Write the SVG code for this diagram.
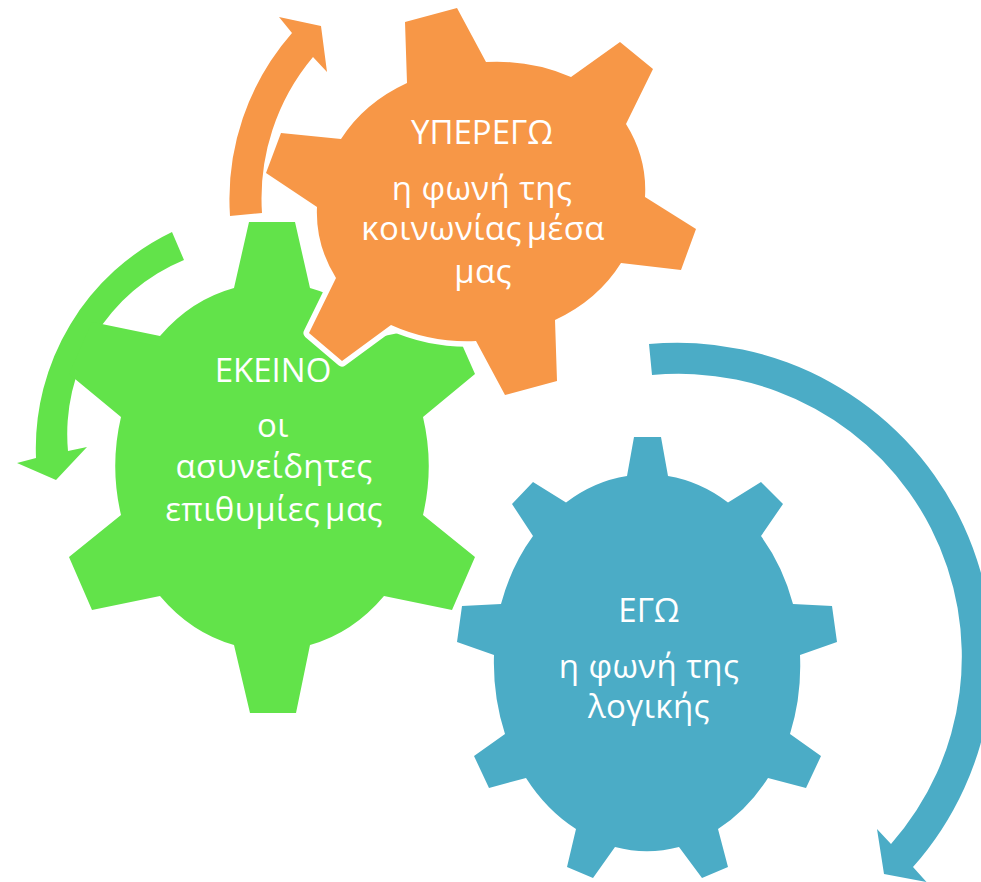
<svg xmlns="http://www.w3.org/2000/svg" width="981" height="882" viewBox="0 0 981 882">
<style>
.o{fill:#F79747}
.g{fill:#62E34A}
.b{fill:#4BACC6}
.halo{stroke:#fff;stroke-width:11;stroke-linejoin:round;paint-order:stroke}
text{font-family:"Open Sans","Noto Sans",sans-serif;font-size:33px;fill:#fff;text-anchor:middle;word-spacing:-4px;letter-spacing:.4px}
text.cap{letter-spacing:0}
text.wide{word-spacing:0}
</style>
<rect width="981" height="882" fill="#fff"/>
<g id="connectors">
<path id="arrow-ekeino" class="g" d="M172 232A240 240 0 0 0 36 458L17 463L56 480L87 447L68 451A188 188 0 0 1 184 260Z"/>
<path id="arrow-ego" class="b" d="M649 344A315 315 0 0 1 913 867L926.500 882L884 874L877 829L891 844A283 283 0 0 0 652 375Z"/>
</g>
<g id="node-ego">
<path class="b" d="M634 437L661 437L668 476A153 190 0 0 1 728 502.500L761 482L783 504L761 536A153 190 0 0 1 793 604L832 606L837 642L800 655A153 190 0 0 1 790 734L821 756L806 788L768 778A153 190 0 0 1 718 829L728 867L702 878L679 847A153 190 0 0 1 615 847L593 878L567 867L576 829A153 190 0 0 1 526 778L489 788L474 756L505 734A153 190 0 0 1 494 655L457 642L462 606L501 604A153 190 0 0 1 533 536L512 504L533 482L566 502.500A153 190 0 0 1 627 476Z"/>
<text class="cap" x="649" y="622">ΕΓΩ</text>
<text class="wide" x="649" y="678">η φωνή της</text>
<text x="649" y="718">λογικής</text>
</g>
<g id="node-ekeino">
<path class="g" d="M249 222L295 222L310 288A155 183 0 0 1 384 336L452 322L475 374L423 417A155 183 0 0 1 423 515L475 557L452 610L384 596A155 183 0 0 1 310 645L296 713L250 713L234 645A155 183 0 0 1 160 596L92 610L69 557L121 515A155 183 0 0 1 121 417L69 374L92 322L160 336A155 183 0 0 1 234 288Z"/>
</g>
<g id="node-yperego">
<path class="o halo" d="M405 22L457 8L486 62A164 140 0 0 1 571 77L620 42L653 69L626 124A164 140 0 0 1 645 197L696 229L681 270L621 263A164 140 0 0 1 555 320L557 381L505 395L476 341A164 140 0 0 1 391 325L342 361L309 333L336 278A164 140 0 0 1 317 207L266 173L281 133L341 139A164 140 0 0 1 407 83Z"/>
<text class="cap" x="482" y="144">ΥΠΕΡΕΓΩ</text>
<text class="wide" x="482" y="200">η φωνή της</text>
<text x="483" y="240">κοινωνίας μέσα</text>
<text x="483" y="283">μας</text>
</g>
<path id="arrow-yperego" class="o" d="M230 216A252 252 0 0 1 292 33L279 17L321 26L327 72L313 57A220 220 0 0 0 262 213Z"/>
<g id="node-ekeino-text">
<text class="cap" x="273" y="382">ΕΚΕΙΝΟ</text>
<text x="273" y="437">οι</text>
<text x="274" y="478">ασυνείδητες</text>
<text x="274" y="521">επιθυμίες μας</text>
</g>
</svg>
